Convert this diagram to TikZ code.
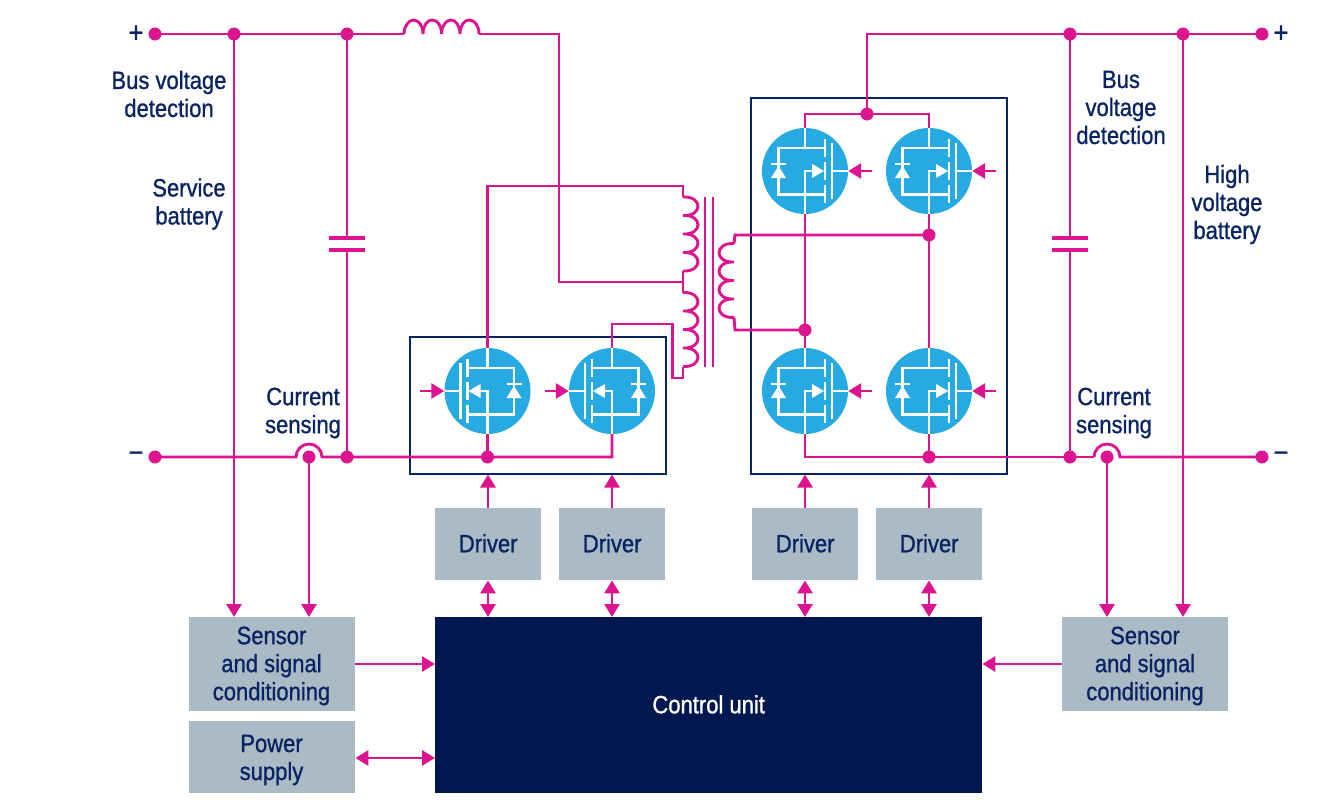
\documentclass[tikz,border=0pt]{standalone}
\usepackage{fontspec}
\setmainfont[FakeStretch=0.88,FakeBold=1.0]{Liberation Sans}
\usetikzlibrary{arrows.meta}
\definecolor{wirec}{HTML}{DC1490}
\definecolor{navyc}{HTML}{0A2463}
\definecolor{darkc}{HTML}{00184F}
\definecolor{grayc}{HTML}{ABBBC5}
\definecolor{fetc}{HTML}{27AAE1}
\tikzset{
  wire/.style={draw=wirec,line width=2.9pt},
  tip/.style={wire,-{Triangle[length=13pt,width=15pt]}},
  dtip/.style={wire,{Triangle[length=13pt,width=15pt]}-{Triangle[length=13pt,width=15pt]}},
  jdot/.style={circle,fill=wirec,minimum size=13pt,inner sep=0pt},
  fet/.style={circle,fill=fetc,minimum size=86pt,inner sep=0pt},
  block/.style={draw=navyc,line width=2.8pt},
  gbox/.style={fill=grayc,inner sep=0pt,anchor=north west,align=center,text=navyc,font=\lbl},
  lab/.style={align=center,text=navyc,font=\lbl,inner sep=0pt},
  sign/.style={text=navyc,font=\sgn,inner sep=0pt},
  plate/.style={draw=wirec,line width=4.4pt},
  fetline/.style={draw=white,line width=2.4pt}
}
\newcommand{\lbl}{\fontsize{25}{28}\selectfont}
\newcommand{\sgn}{\fontsize{29}{29}\selectfont}
\newcommand{\fetinner}[2]{%
  \begin{scope}[shift={(#1.center)},xscale=#2]
    \draw[fetline] (-43,0) -- (-27,0);
    \draw[fetline] (-27,-28) -- (-27,28);
    \draw[fetline] (-20,-32) -- (-20,-14);
    \draw[fetline] (-20,-9) -- (-20,9);
    \draw[fetline] (-20,14) -- (-20,32);
    \draw[fetline] (0,-43) -- (0,-23);
    \draw[fetline] (-20,-23) -- (26.5,-23) -- (26.5,23.5) -- (-20,23.5);
    \draw[fetline] (0,43) -- (0,0) -- (-8,0);
    \fill[white] (-19,0) -- (-7,-7) -- (-7,7) -- cycle;
    \draw[fetline] (19,-7) -- (34,-7);
    \fill[white] (26.5,-5) -- (19,7) -- (34,7) -- cycle;
  \end{scope}}
\newcommand{\coilpath}[3]{%
  \draw[wire] (#1,#3)
   .. controls (#1+#2,#3-1) and (#1+#2,#3+19.5) .. (#1,#3+18.5)
   .. controls (#1+#2,#3+17.5) and (#1+#2,#3+38) .. (#1,#3+37)
   .. controls (#1+#2,#3+36) and (#1+#2,#3+56.5) .. (#1,#3+55.5)
   .. controls (#1+#2,#3+54.5) and (#1+#2,#3+75) .. (#1,#3+74);}
\begin{document}
\begin{tikzpicture}[x=1pt,y=-1pt]
\path[use as bounding box] (0,0) rectangle (1320,803);
% blocks
\node[gbox,minimum width=106pt,minimum height=72pt] (d1) at (435,508) {\raisebox{2pt}{Driver}};
\node[gbox,minimum width=106pt,minimum height=72pt] (d2) at (559,508) {\raisebox{2pt}{Driver}};
\node[gbox,minimum width=106pt,minimum height=72pt] (d3) at (752,508) {\raisebox{2pt}{Driver}};
\node[gbox,minimum width=106pt,minimum height=72pt] (d4) at (876,508) {\raisebox{2pt}{Driver}};
\node[gbox,fill=none,minimum width=166pt,minimum height=94pt] (sl) at (189,617) {};
\node[gbox,fill=none,minimum width=166pt,minimum height=94pt] (sr) at (1062,617) {};
\node[gbox,fill=none,minimum width=166pt,minimum height=72pt] (ps) at (189,721) {};
\fill[grayc] (sl.north west) rectangle (sl.south east);
\fill[grayc] (sr.north west) rectangle (sr.south east);
\fill[grayc] (ps.north west) rectangle (ps.south east);
\node[lab] (slt) at (271.5,666) {Sensor\\and signal\\conditioning};
\node[lab] (srt) at (1145,666) {Sensor\\and signal\\conditioning};
\node[lab] (pst) at (271.5,760) {Power\\supply};
\node[gbox,fill=darkc,text=white,minimum width=547pt,minimum height=176pt] (cu) at (435,617) {\raisebox{2pt}{Control unit}};
% frames
\draw[block] (410,337) rectangle (666,474);
\draw[block] (751,98) rectangle (1007,474);
\coordinate (fl) at (488,474.5);
\coordinate (fm) at (612,474.5);
\coordinate (fr) at (805,474.5);
\coordinate (fs) at (929,474.5);
% fets
\node[fet] (q1) at (487.5,391) {};
\node[fet] (q2) at (612,391) {};
\node[fet] (q3) at (805,171) {};
\node[fet] (q4) at (929,171) {};
\node[fet] (q5) at (805,391) {};
\node[fet] (q6) at (929,391) {};
% junctions
\node[jdot] (tl) at (155,34) {};
\node[jdot] (t1) at (234,34) {};
\node[jdot] (t2) at (347,34) {};
\node[jdot] (bl) at (155,457) {};
\node[jdot] (js) at (309,457) {};
\node[jdot] (b2) at (347,457) {};
\node[jdot] (b3) at (487.5,457) {};
\node[jdot] (tr) at (1262,34) {};
\node[jdot] (t3) at (1070,34) {};
\node[jdot] (t4) at (1183,34) {};
\node[jdot] (br) at (1262,457) {};
\node[jdot] (b4) at (929,457) {};
\node[jdot] (b5) at (1070,457) {};
\node[jdot] (jr) at (1107,457) {};
\node[jdot] (u1) at (867,114) {};
\node[jdot] (m1) at (929,235) {};
\node[jdot] (m2) at (805,330) {};
% helper coordinates
\coordinate (indl) at (404,34);
\coordinate (indr) at (479,34);
\coordinate (corner1) at (559,34);
\coordinate (tap) at (683,282);
\coordinate (ptop) at (683,186);
\coordinate (pbot) at (683,378);
\coordinate (hook) at (672.5,324);
\coordinate (stop) at (735,235);
\coordinate (sbot) at (735,330);
\coordinate (jlL) at (296,457);
\coordinate (jrL) at (1094,457);
\coordinate (c1t) at (347,238);
\coordinate (c1b) at (347,250);
\coordinate (c2t) at (1070,238);
\coordinate (c2b) at (1070,250);
\coordinate (top2) at (867,34);
% fet inners
\fetinner{q1}{1}
\fetinner{q2}{1}
\fetinner{q3}{-1}
\fetinner{q4}{-1}
\fetinner{q5}{-1}
\fetinner{q6}{-1}
% top-left rail and inductor
\draw[wire] (tl.center) -- (indl);
\draw[wire] (indl)
  .. controls (404,26) and (409,20) .. (413.5,20)
  .. controls (419,20) and (423,26) .. (423,34)
  .. controls (423,26) and (427,20) .. (432,20)
  .. controls (438,20) and (441.5,26) .. (441.5,34)
  .. controls (441.5,26) and (446,20) .. (451,20)
  .. controls (456,20) and (460,26) .. (460,34)
  .. controls (460,26) and (464,20) .. (469,20)
  .. controls (475,20) and (479,26) .. (indr);
\draw[wire] (indr) -- (corner1) -- (559,282) -- (tap);
% primary winding
\draw[wire] (q1.north) |- (ptop) -- (683,197);
\coilpath{683}{20}{197}
\draw[wire] (683,271) -- (tap) -- (683,292.5);
\coilpath{683}{20}{292.5}
\draw[wire] (683,366.5) -- (pbot) -- (672.5,378) -- (hook) -| (q2.north);
% core
\draw[draw=wirec,line width=2pt] (705,197) -- (705,367);
\draw[draw=wirec,line width=2pt] (712.5,197) -- (712.5,367);
% secondary winding
\coilpath{734}{-20}{243.5}
\draw[wire] (m1.center) -- (stop) -- (734,243.5);
\draw[wire] (m2.center) -- (sbot) -- (734,317.5);
% right upper wiring
\draw[wire] (tr.center) -- (top2) -- (u1.center);
\draw[wire] (q3.north) |- (u1.center) -| (q4.north);
\draw[wire] (q3.south) -- (q5.north);
\draw[wire] (q4.south) -- (q6.north);
\draw[wire] (q5.south) |- (jrL);
\draw[wire] (q6.south) -- (b4.center);
% bottom rails
\draw[wire] (bl.center) -- (jlL) arc[start angle=180,end angle=360,radius=13] -- (b3.center) -| (q2.south);
\draw[wire] (q1.south) -- (b3.center);
\draw[wire] (jrL) arc[start angle=180,end angle=360,radius=13] -- (br.center);
% capacitors
\draw[wire] (t2.center) -- (c1t);
\draw[wire] (c1b) -- (b2.center);
\draw[plate] (329,238) -- (365,238);
\draw[plate] (329,250) -- (365,250);
\draw[wire] (t3.center) -- (c2t);
\draw[wire] (c2b) -- (b5.center);
\draw[plate] (1052,238) -- (1088,238);
\draw[plate] (1052,250) -- (1088,250);
% gates
\draw[tip] (420,391) -- (q1.west);
\draw[tip] (545,391) -- (q2.west);
\draw[tip] (872,171) -- (q3.east);
\draw[tip] (996,171) -- (q4.east);
\draw[tip] (872,391) -- (q5.east);
\draw[tip] (996,391) -- (q6.east);
% sensing lines
\draw[tip] (t1.center) -- (234,617);
\draw[tip] (js.center) -- (309,617);
\draw[tip] (jr.center) -- (1107,617);
\draw[tip] (t4.center) -- (1183,617);
% drivers
\draw[tip] (d1.north -| fl) -- (fl);
\draw[tip] (d2.north -| fm) -- (fm);
\draw[tip] (d3.north -| fr) -- (fr);
\draw[tip] (d4.north -| fs) -- (fs);
\draw[dtip] (d1.south -| fl) -- (cu.north -| fl);
\draw[dtip] (d2.south -| fm) -- (cu.north -| fm);
\draw[dtip] (d3.south -| fr) -- (cu.north -| fr);
\draw[dtip] (d4.south -| fs) -- (cu.north -| fs);
% control links
\coordinate (ys) at (0,664);
\coordinate (yp) at (0,758);
\draw[tip] (sl.east |- ys) -- (cu.west |- ys);
\draw[tip] (sr.west |- ys) -- (cu.east |- ys);
\draw[dtip] (ps.east |- yp) -- (cu.west |- yp);
% labels
\node[sign] (lp1) at (136,34) {+};
\node[sign] (lm1) at (136,457) {−};
\node[sign] (lp2) at (1281,34) {+};
\node[sign] (lm2) at (1281,457) {−};
\node[lab] (l1) at (169,94) {Bus voltage\\detection};
\node[lab] (l2) at (189,204) {Service\\battery};
\node[lab] (l3) at (303,413) {Current\\sensing};
\node[lab] (l4) at (1121,107.5) {Bus\\voltage\\detection};
\node[lab] (l5) at (1227,204.5) {High\\voltage\\battery};
\node[lab] (l6) at (1114,413) {Current\\sensing};
\end{tikzpicture}
\end{document}
